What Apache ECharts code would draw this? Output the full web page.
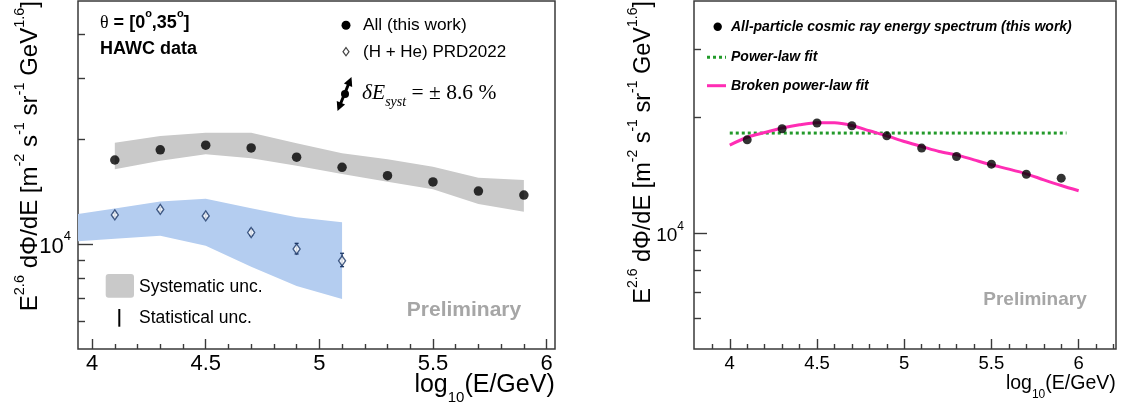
<!DOCTYPE html>
<html><head><meta charset="utf-8">
<script src="https://cdn.jsdelivr.net/npm/echarts@6/dist/echarts.min.js"></script>
<style>html,body{margin:0;padding:0;background:#fff}#c{width:1128px;height:409px}</style>
</head><body><div id="c"></div>
<script>
// ---------- data ----------
const energyBins = [4.1, 4.3, 4.5, 4.7, 4.9, 5.1, 5.3, 5.5, 5.7, 5.9];
const allFlux    = [17460, 18680, 19260, 18910, 17790, 16640, 15740, 15100, 14220, 13850];
const allSysHigh = [19580, 20470, 20920, 20920, 19500, 18250, 17540, 16710, 15530, 15300];
const allSysLow  = [16420, 17380, 18130, 17660, 16820, 15920, 15120, 14380, 13050, 12400];

const hheBins     = [4.1, 4.3, 4.5, 4.7, 4.9, 5.1];
const hheFlux     = [12140, 12590, 12060, 10810, 9690, 8960];
const hheStatHigh = [12300, 12760, 12220, 11030, 10060, 9420];
const hheStatLow  = [11980, 12430, 11900, 10595, 9376, 8620];
const hheBandX    = [3.9, 4.1, 4.3, 4.5, 4.7, 4.9, 5.1];
const hheSysHigh  = [12110, 12670, 13260, 13520, 12690, 11950, 11560];
const hheSysLow   = [10160, 10370, 10580, 9900, 8620, 7590, 6960];

const rightFlux = [17450, 18640, 19290, 18980, 17870, 16610, 15800, 15090, 14210, 13880];
const powerLawX = [4.0, 5.93];
const powerLawY = [18170, 18170];
const brokenX = [4.0, 4.1, 4.2, 4.3, 4.4, 4.5, 4.6, 4.7, 4.8, 4.9, 5.0, 5.1, 5.2, 5.3, 5.4, 5.5, 5.6, 5.7, 5.8, 5.9, 6.0];
const brokenY = [16910, 17720, 18230, 18720, 19090, 19320, 19320, 19010, 18420, 17870, 17280, 16770, 16270, 15950, 15480, 15030, 14650, 14240, 13740, 13280, 12870];

const xMajorTicks = [4, 4.5, 5, 5.5, 6];
const xMinorLeft  = [4.1, 4.2, 4.3, 4.4, 4.6, 4.7, 4.8, 4.9, 5.1, 5.2, 5.3, 5.4, 5.6, 5.7, 5.8, 5.9];
const xMinorRight = [3.9, 4.1, 4.2, 4.3, 4.4, 4.6, 4.7, 4.8, 4.9, 5.1, 5.2, 5.3, 5.4, 5.6, 5.7, 5.8, 5.9, 6.1, 6.2];
const yMajorTicks = [10000];
const yMinorLeft  = [6000, 7000, 8000, 9000, 20000, 30000, 40000];
const yMinorRight = [6000, 7000, 8000, 9000, 20000, 30000];

const yTitle = '{m|E}{s|2.6}{m| dΦ/dE [m}{s|-2}{m| s}{s|-1}{m| sr}{s|-1}{m| GeV}{s|1.6}{m|]}';
const xTitle = '{m|log}{d|10}{m|(E/GeV)}';

// ---------- chart ----------
const FONT = 'Liberation Sans, Arial, sans-serif';
const chart = echarts.init(document.getElementById('c'), null, {renderer: 'canvas'});
const frame = '#3a3a3a';

function xAxes(grid, min, max, minor, fs, margin) {
  return [
    {gridIndex: grid, type: 'value', min, max, position: 'bottom',
     axisLine: {show: false}, splitLine: {show: false},
     axisTick: {inside: true, length: 10, customValues: xMajorTicks, lineStyle: {color: frame, width: 1.4}},
     axisLabel: {customValues: xMajorTicks, fontSize: fs, color: '#000', margin, fontFamily: FONT}},
    {gridIndex: grid, type: 'value', min, max, position: 'bottom',
     axisLine: {show: false}, splitLine: {show: false},
     axisTick: {inside: true, length: 5, customValues: minor, lineStyle: {color: frame, width: 1.4}},
     axisLabel: {show: false}}
  ];
}
function yAxes(grid, min, max, minor, majLen, fs, sfs, margin) {
  return [
    {gridIndex: grid, type: 'log', min, max, position: 'left',
     axisLine: {show: false}, splitLine: {show: false},
     axisTick: {inside: true, length: majLen, customValues: yMajorTicks, lineStyle: {color: frame, width: 1.4}},
     axisLabel: {customValues: yMajorTicks, margin, formatter: () => '{b|10}{s|4}',
       rich: {b: {fontSize: fs, fontFamily: FONT, color: '#000', lineHeight: fs + 6, verticalAlign: 'bottom'},
              s: {fontSize: sfs, fontFamily: FONT, color: '#000', lineHeight: sfs, verticalAlign: 'top'}}}},
    {gridIndex: grid, type: 'log', min, max, position: 'left',
     axisLine: {show: false}, splitLine: {show: false},
     axisTick: {inside: true, length: 7, customValues: minor, lineStyle: {color: frame, width: 1.4}},
     axisLabel: {show: false}}
  ];
}

function bandSeries(xi, yi, xs, hi, lo, color) {
  return {
    type: 'custom', xAxisIndex: xi, yAxisIndex: yi, clip: true, silent: true, z: 1,
    data: [[xs[0], hi[0]]],
    renderItem: (params, api) => {
      const pts = [];
      xs.forEach((x, i) => pts.push(api.coord([x, hi[i]])));
      for (let i = xs.length - 1; i >= 0; i--) pts.push(api.coord([xs[i], lo[i]]));
      return {type: 'polygon', shape: {points: pts}, style: {fill: color}};
    }
  };
}

const navy = '#1d3868';

const option = {
  animation: false,
  backgroundColor: '#fff',
  textStyle: {fontFamily: FONT},
  grid: [
    {left: 78, top: 1, right: 573, bottom: 60, show: true, borderColor: frame, borderWidth: 1.5, backgroundColor: 'transparent'},
    {left: 694, top: 1, right: 12, bottom: 60, show: true, borderColor: frame, borderWidth: 1.5, backgroundColor: 'transparent'}
  ],
  xAxis: [].concat(xAxes(0, 3.938, 6.037, xMinorLeft, 22, 4), xAxes(1, 3.795, 6.214, xMinorRight, 18.5, 5)),
  yAxis: [].concat(yAxes(0, 5000, 50000, yMinorLeft, 15, 22, 13, 7), yAxes(1, 5000, 40000, yMinorRight, 13, 19, 12, 10)),
  series: [
    bandSeries(0, 0, energyBins, allSysHigh, allSysLow, '#c9c9c9'),
    bandSeries(0, 0, hheBandX, hheSysHigh, hheSysLow, '#b4cdf0'),
    {
      type: 'custom', xAxisIndex: 0, yAxisIndex: 0, z: 3, silent: true,
      data: hheBins.map((x, i) => [x, hheFlux[i], hheStatLow[i], hheStatHigh[i]]),
      renderItem: (params, api) => {
        const x = api.value(0);
        const a = api.coord([x, api.value(2)]), b = api.coord([x, api.value(3)]);
        const st = {stroke: navy, lineWidth: 1.3};
        return {type: 'group', children: [
          {type: 'line', shape: {x1: a[0], y1: a[1], x2: b[0], y2: b[1]}, style: st},
          {type: 'line', shape: {x1: a[0] - 2, y1: a[1], x2: a[0] + 2, y2: a[1]}, style: st},
          {type: 'line', shape: {x1: b[0] - 2, y1: b[1], x2: b[0] + 2, y2: b[1]}, style: st}
        ]};
      }
    },
    {type: 'scatter', xAxisIndex: 0, yAxisIndex: 0, z: 4, symbol: 'diamond', symbolSize: [7, 10],
     itemStyle: {color: '#fff', borderColor: navy, borderWidth: 1.4},
     data: hheBins.map((x, i) => [x, hheFlux[i]])},
    {type: 'scatter', xAxisIndex: 0, yAxisIndex: 0, z: 5, symbol: 'circle', symbolSize: 9.5,
     itemStyle: {color: '#000'},
     data: energyBins.map((x, i) => [x, allFlux[i]])},
    // right panel
    {type: 'line', xAxisIndex: 2, yAxisIndex: 2, z: 3, symbol: 'none',
     lineStyle: {color: '#229a2a', width: 3, type: [3, 3]},
     data: powerLawX.map((x, i) => [x, powerLawY[i]])},
    {type: 'line', xAxisIndex: 2, yAxisIndex: 2, z: 4, symbol: 'none', smooth: 0.3,
     lineStyle: {color: '#ff2db4', width: 3},
     data: brokenX.map((x, i) => [x, brokenY[i]])},
    {type: 'scatter', xAxisIndex: 2, yAxisIndex: 2, z: 5, symbol: 'circle', symbolSize: 9,
     itemStyle: {color: '#000'},
     data: energyBins.map((x, i) => [x, rightFlux[i]])}
  ],
  graphic: []
};

// ---------- annotations / legends ----------
const G = option.graphic;
function txt(x, y, text, o) {
  o = o || {};
  G.push({type: 'text', x, y, rotation: o.rot || 0, z: 100,
    style: Object.assign({text, fontFamily: FONT, fontSize: o.fs || 17, fontWeight: o.fw || 'normal',
      fontStyle: o.fst || 'normal', fill: o.fill || '#000',
      align: o.align || 'left', textAlign: o.align || 'left',
      verticalAlign: o.va || 'middle', textVerticalAlign: o.va || 'middle'}, o.rich ? {rich: o.rich} : {})});
}
const supRich = (fs, sfs, extra) => ({
  m: Object.assign({fontSize: fs, fontFamily: FONT, lineHeight: fs + 6, verticalAlign: 'bottom', fill: '#000', color: '#000'}, extra || {}),
  s: Object.assign({fontSize: sfs, fontFamily: FONT, lineHeight: sfs, verticalAlign: 'top', fill: '#000', color: '#000'}, extra || {})
});
const subRich = (fs, sfs) => ({
  m: {fontSize: fs, fontFamily: FONT, lineHeight: fs + 2, verticalAlign: 'top', fill: '#000'},
  d: {fontSize: sfs, fontFamily: FONT, lineHeight: sfs, verticalAlign: 'bottom', fill: '#000', padding: [0, 0, 0, 0]},
  pad: {lineHeight: fs + 8, fontSize: 1}
});

// left panel texts
txt(100, 20, '{t|θ}{m| = [0}{s|o}{m|,35}{s|o}{m|]}', {rich: Object.assign(supRich(18, 11, {fontWeight: 'bold'}),
  {t: {fontSize: 18, fontFamily: 'Liberation Serif, serif', lineHeight: 24, verticalAlign: 'bottom'}})});
txt(100, 49, 'HAWC data', {fs: 18, fw: 'bold'});
G.push({type: 'circle', shape: {cx: 346, cy: 25.3, r: 4.5}, style: {fill: '#000'}, z: 100});
txt(363, 25.5, 'All (this work)', {fs: 17.3});
G.push({type: 'polygon', shape: {points: [[346, 47.6], [349, 51.7], [346, 55.8], [343, 51.7]]}, style: {fill: '#fff', stroke: '#444', lineWidth: 1.2}, z: 100});
txt(363, 52, '(H + He) PRD2022', {fs: 17});
// systematic energy shift arrow
(function () {
  const t1 = [351.5, 77], t2 = [337.5, 111];
  const dx = t1[0] - t2[0], dy = t1[1] - t2[1], L = Math.hypot(dx, dy);
  const ux = dx / L, uy = dy / L, px = -uy, py = ux;
  const head = (tip, s) => {
    const bx = tip[0] - s * 9 * ux, by = tip[1] - s * 9 * uy;
    return [[tip[0], tip[1]], [bx + 4.5 * px, by + 4.5 * py], [bx - 4.5 * px, by - 4.5 * py]];
  };
  G.push({type: 'line', shape: {x1: t1[0] - 6 * ux, y1: t1[1] - 6 * uy, x2: t2[0] + 6 * ux, y2: t2[1] + 6 * uy}, style: {stroke: '#000', lineWidth: 3}, z: 100});
  G.push({type: 'polygon', shape: {points: head(t1, 1)}, style: {fill: '#000'}, z: 100});
  G.push({type: 'polygon', shape: {points: head(t2, -1)}, style: {fill: '#000'}, z: 100});
  G.push({type: 'circle', shape: {cx: (t1[0] + t2[0]) / 2 + 0.5, cy: (t1[1] + t2[1]) / 2, r: 4}, style: {fill: '#000'}, z: 100});
})();
txt(362, 96, '{i|δE}{d|syst}{m| = ± 8.6 %}', {rich: {
  i: {fontSize: 21.5, fontFamily: 'Liberation Serif, serif', fontStyle: 'italic', lineHeight: 27, verticalAlign: 'top'},
  d: {fontSize: 14, fontFamily: 'Liberation Serif, serif', fontStyle: 'italic', lineHeight: 14, verticalAlign: 'bottom'},
  m: {fontSize: 21.5, fontFamily: 'Liberation Serif, serif', lineHeight: 27, verticalAlign: 'top'}}});
G.push({type: 'rect', shape: {x: 105.7, y: 274, width: 28.3, height: 23.7, r: 3}, style: {fill: '#c9c9c9'}, z: 100});
txt(139, 287.5, 'Systematic unc.', {fs: 17.5});
G.push({type: 'line', shape: {x1: 119.3, y1: 309, x2: 119.3, y2: 326.7}, style: {stroke: '#000', lineWidth: 2}, z: 100});
txt(139, 318.5, 'Statistical unc.', {fs: 17.5});
txt(464, 310, 'Preliminary', {fs: 21, fw: 'bold', fill: '#a6a6a6', align: 'center'});
txt(555, 389, '{m|log}{d|10}{m|(E/GeV)}{pad| }', {align: 'right', rich: subRich(25, 15)});
txt(27, 1, yTitle, {rot: Math.PI / 2, align: 'right', rich: supRich(24, 14.5)});

// right panel texts
G.push({type: 'circle', shape: {cx: 717.7, cy: 26.7, r: 4.2}, style: {fill: '#000'}, z: 100});
txt(731, 27, 'All-particle cosmic ray energy spectrum (this work)', {fs: 14, fw: 'bold', fst: 'italic'});
G.push({type: 'line', shape: {x1: 707, y1: 57.3, x2: 726, y2: 57.3}, style: {stroke: '#229a2a', lineWidth: 3, lineDash: [3, 3]}, z: 100});
txt(731, 57.5, 'Power-law fit', {fs: 14, fw: 'bold', fst: 'italic'});
G.push({type: 'line', shape: {x1: 707, y1: 85.7, x2: 726, y2: 85.7}, style: {stroke: '#ff2db4', lineWidth: 3}, z: 100});
txt(731, 86, 'Broken power-law fit', {fs: 14, fw: 'bold', fst: 'italic'});
txt(1035, 300, 'Preliminary', {fs: 19, fw: 'bold', fill: '#a6a6a6', align: 'center'});
txt(1116, 387, '{m|log}{d|10}{m|(E/GeV)}{pad| }', {align: 'right', rich: subRich(19.5, 12)});
txt(641, 1, yTitle, {rot: Math.PI / 2, align: 'right', rich: supRich(23.5, 14)});

chart.setOption(option);
</script>
</body></html>
